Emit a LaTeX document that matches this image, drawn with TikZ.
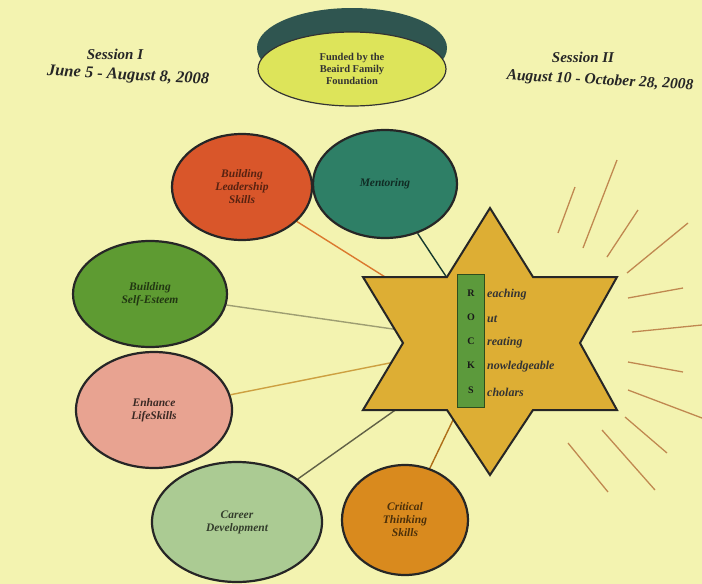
\documentclass[tikz,border=0pt]{standalone}
\usepackage{fontspec}
\setmainfont{Liberation Serif}
\usetikzlibrary{shapes.geometric,backgrounds}
\definecolor{paper}{HTML}{F3F3B0}
\definecolor{rimcol}{HTML}{2F5550}
\definecolor{facecol}{HTML}{DDE45A}
\definecolor{leadcol}{HTML}{D9562A}
\definecolor{mentcol}{HTML}{2E7F66}
\definecolor{selfcol}{HTML}{5E9B32}
\definecolor{enhcol}{HTML}{E8A391}
\definecolor{carcol}{HTML}{ABCB93}
\definecolor{critcol}{HTML}{D98A1E}
\definecolor{starcol}{HTML}{DDAE34}
\definecolor{barcol}{HTML}{5C9A3C}
\definecolor{raycol}{HTML}{C08850}

\begin{document}
\begin{tikzpicture}[x=1pt,y=-1pt,
  goal/.style={ellipse, draw=black!85, line width=2.2pt, inner sep=0pt, align=center,
    font=\fontsize{11.5}{13}\selectfont\bfseries\itshape},
  link/.style={line width=1.4pt},
  ray/.style={draw=raycol, line width=1.3pt},
  session/.style={font=\fontsize{15}{17}\selectfont\bfseries\itshape, text=black!85},
  letter/.style={font=\fontsize{10}{11}\selectfont\bfseries, text=black!90},
  word/.style={font=\fontsize{12}{13}\selectfont\bfseries\itshape, text=black!80, inner sep=0pt}]
\useasboundingbox (0,0) rectangle (702,584);
\begin{scope}[on background layer]
  \fill[paper] (0,0) rectangle (702,584);
\end{scope}

% funding disk
\fill[rimcol] (352,48) ellipse (95pt and 40pt);
\filldraw[fill=facecol, draw=black!80, line width=1.2pt] (352,69) ellipse (94pt and 37pt);
\node[align=center, font=\fontsize{10.5}{12}\selectfont\bfseries, text=black!80] (fund) at (352,69)
  {Funded by the\\Beaird Family\\Foundation};

% sessions
\node[session] (s1) at (115,54) {Session I};
\node[session, font=\fontsize{16.5}{18}\selectfont\bfseries\itshape, rotate=-3] (d1) at (128,76) {June 5 - August 8, 2008};
\node[session] (s2) at (583,57) {Session II};
\node[session, font=\fontsize{15.5}{18}\selectfont\bfseries\itshape, rotate=-3, inner sep=1pt] (d2) at (600,81) {August 10 - October 28, 2008};

% goals
\node[goal, fill=leadcol, text=leadcol!40!black, minimum width=140pt, minimum height=106pt] (lead) at (242,187) {Building\\Leadership\\Skills};
\node[goal, fill=mentcol, text=mentcol!35!black, minimum width=144pt, minimum height=108pt] (ment) at (385,184) {Mentoring};
\node[goal, fill=selfcol, text=selfcol!35!black, minimum width=154pt, minimum height=106pt] (self) at (150,294) {Building\\Self-Esteem};
\node[goal, fill=enhcol, text=enhcol!25!black, minimum width=156pt, minimum height=116pt] (enh) at (154,410) {Enhance\\LifeSkills};
\node[goal, fill=carcol, text=carcol!30!black, minimum width=170pt, minimum height=120pt] (car) at (237,522) {Career\\Development};
\node[goal, fill=critcol, text=critcol!35!black, minimum width=126pt, minimum height=110pt] (crit) at (405,520) {Critical\\Thinking\\Skills};

% star
\coordinate (rocks) at (490,343);
\filldraw[fill=starcol, draw=black!85, line width=2pt, line join=miter]
  (490,208) -- (533,277) -- (617,277) -- (580,343) -- (617,410) -- (533,410) -- (490,475)
  -- (447,410) -- (363,410) -- (403,343) -- (363,277) -- (447,277) -- cycle;
\node[draw=barcol!50!black, fill=barcol, line width=0.8pt, minimum width=27pt, minimum height=133pt, inner sep=0pt] (bar) at (471,341) {};
\foreach \l/\w/\y [count=\i] in {R/eaching/293, O/ut/317, C/reating/341, K/nowledgeable/365, S/cholars/390} {
  \node[letter] (l\i) at (471,\y) {\l};
  \node[word, anchor=west] (w\i) at (487,\y+2) {\w};
}

\begin{scope}[on background layer]
  \draw[link, draw=leadcol!60!starcol] (lead) -- (rocks);
  \draw[link, draw=black!55!mentcol] (ment) -- (rocks);
  \draw[link, draw=black!35!paper] (self) -- (rocks);
  \draw[link, draw=raycol!80!yellow] (enh) -- (rocks);
  \draw[link, draw=black!60!paper] (car) -- (rocks);
  \draw[link, draw=critcol!80!black] (crit) -- (rocks);
\end{scope}

% rays
\foreach \a/\b/\c/\d in {558/233/575/187, 583/248/617/160, 607/257/638/210, 627/273/688/223,
  628/298/683/288, 632/332/702/325, 628/362/683/372, 628/390/702/418,
  625/417/667/453, 602/430/655/490, 568/443/608/492}
  \draw[ray] (\a,\b) -- (\c,\d);
\end{tikzpicture}
\end{document}
